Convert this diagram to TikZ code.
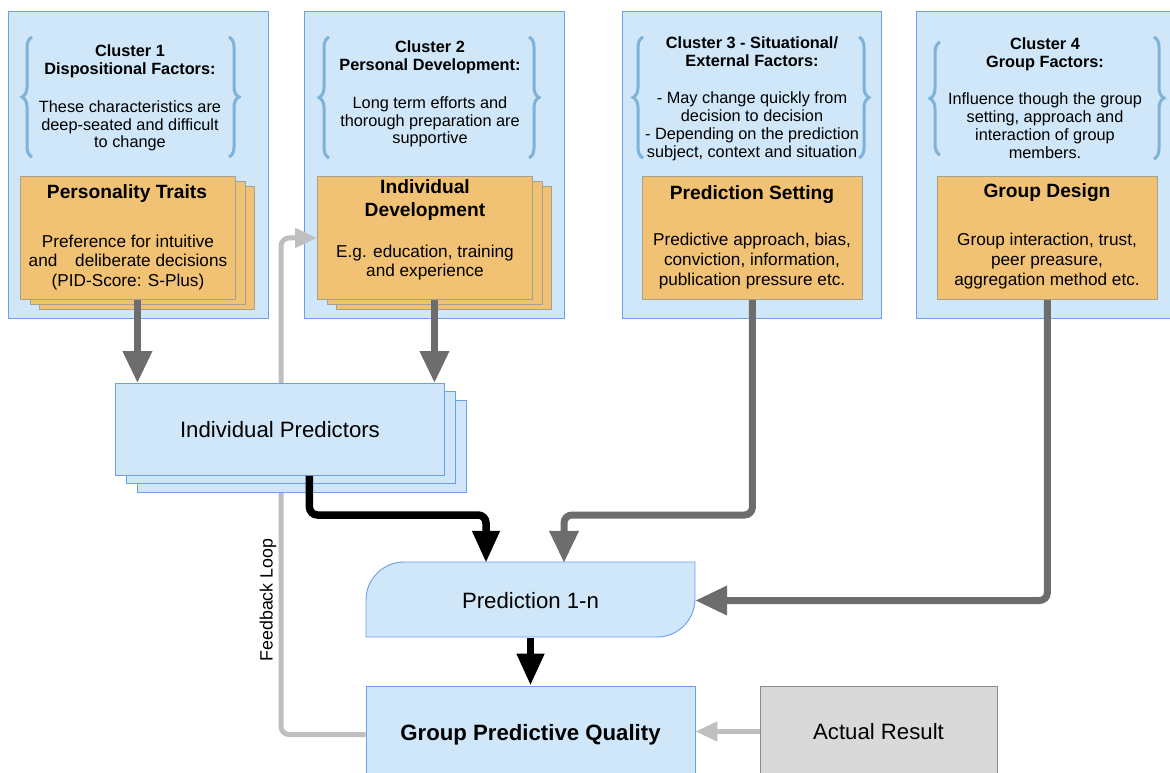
\documentclass[tikz,border=0pt]{standalone}
\usepackage{fontspec}
\setmainfont{Liberation Sans}
\usetikzlibrary{arrows.meta,decorations.pathreplacing,calc}
\definecolor{lblue}{HTML}{CFE7F8}
\definecolor{bblue}{HTML}{6D9EEB}
\definecolor{lorange}{HTML}{F1C273}
\definecolor{oedge}{HTML}{A6A08F}
\definecolor{bracec}{HTML}{7EB2D8}
\definecolor{dgray}{HTML}{6D6D6D}
\definecolor{lgray}{HTML}{BFBFBF}
\definecolor{rgray}{HTML}{D9D9D9}
\definecolor{redge}{HTML}{8C8C8C}
\tikzset{
 bluebox/.style={draw=bblue, fill=lblue, line width=0.9pt, inner sep=0pt, anchor=north west},
 orbox/.style={draw=oedge, fill=lorange, line width=0.9pt, inner sep=0pt, anchor=north west, minimum width=215pt, minimum height=123pt},
 cltext/.style={align=center, font=\fontsize{16.3}{17.8}\selectfont, inner sep=0pt},
 ortitle/.style={align=center, font=\bfseries\fontsize{19.2}{23}\selectfont, inner sep=0pt},
 orbody/.style={align=center, font=\fontsize{17.2}{19.6}\selectfont, inner sep=0pt},
 bigtext/.style={font=\fontsize{22.2}{26}\selectfont},
 bracel/.style={draw=bracec, line width=3pt, decorate, decoration={brace, amplitude=10pt}},
 darr/.style={draw=dgray, line width=7pt, rounded corners=8pt, -{Triangle[width=28pt,length=32pt]}},
 barr/.style={draw=black, line width=7.5pt, rounded corners=8pt, -{Triangle[width=26pt,length=32pt]}},
 larr/.style={draw=lgray, line width=5pt, rounded corners=8pt, -{Triangle[width=19pt,length=22pt]}},
}
\begin{document}
\begin{tikzpicture}[x=1pt,y=-1pt]
\useasboundingbox (0,0) rectangle (1170,773);
\clip (0,0) rectangle (1170,773);
% clusters
\node[bluebox, minimum width=260pt, minimum height=307pt] (c1) at (8,11) {};
\node[bluebox, minimum width=260pt, minimum height=307pt] (c2) at (304,11) {};
\node[bluebox, minimum width=259pt, minimum height=307pt] (c3) at (622,11) {};
\node[bluebox, minimum width=270pt, minimum height=307pt] (c4) at (916,11) {};
% braces
\draw[bracel] (32,157) -- (32,37);
\draw[bracel] (229,37) -- (229,157);
\draw[bracel] (329,158) -- (329,37);
\draw[bracel] (529,37) -- (529,158);
\draw[bracel] (643,158) -- (643,37);
\draw[bracel] (859,37) -- (859,158);
\draw[bracel] (940,155) -- (940,42);
\draw[bracel] (1154,37) -- (1154,159);
% cluster texts
\node[cltext] (t1) at (130,98) {\textbf{Cluster 1}\\\textbf{Dispositional Factors:}\\[20pt]These characteristics are\\deep-seated and difficult\\to change};
\node[cltext] (t2) at (430,94) {\textbf{Cluster 2}\\\textbf{Personal Development:}\\[20pt]Long term efforts and\\thorough preparation are\\supportive};
\node[cltext] (t3) at (752,98.5) {\textbf{Cluster 3 - Situational/}\\\textbf{External Factors:}\\[20pt]- May change quickly from\\decision to decision\\- Depending on the prediction\\subject, context and situation};
\node[cltext] (t4) at (1045,98) {\textbf{Cluster 4}\\\textbf{Group Factors:}\\[20pt]Influence though the group\\setting, approach and\\interaction of group\\members.};
% Personality traits stack
\node[orbox] (pt3) at (39,186) {};
\node[orbox] (pt2) at (29.5,181) {};
\node[orbox] (pt) at (20,176) {};
\node[ortitle] (ptt) at (127,194) {Personality Traits};
\node[orbody] (ptb) at (128,262.5) {Preference for intuitive\\and\hspace{13pt} deliberate decisions\\(PID-Score: S-Plus)};
% Individual development stack
\node[orbox] (id3) at (336,186) {};
\node[orbox] (id2) at (326.5,181) {};
\node[orbox] (idv) at (317,176) {};
\node[ortitle] (idt) at (425,200) {Individual\\Development};
\node[orbody] (idb) at (425,262.5) {E.g. education, training\\and experience};
% Prediction setting
\node[orbox, minimum width=220pt] (ps) at (642,176) {};
\node[ortitle] (pst) at (752,194.5) {Prediction Setting};
\node[orbody] (psb) at (752,261) {Predictive approach, bias,\\conviction, information,\\publication pressure etc.};
% Group design
\node[orbox, minimum width=220pt] (gd) at (937,176) {};
\node[ortitle] (gdt) at (1047,192.5) {Group Design};
\node[orbody] (gdb) at (1047,261) {Group interaction, trust,\\peer preasure,\\aggregation method etc.};
% Prediction 1-n
\path[draw=bblue, fill=lblue, line width=0.9pt] (366,637) -- (366,600) .. controls (366,579) and (383,562) .. (404,562) -- (695,562) -- (695,599) .. controls (695,620) and (678,637) .. (657,637) -- cycle;
\node[bigtext, minimum width=329pt, minimum height=75pt, inner sep=0pt] (pred) at (530.5,600.5) {Prediction 1-n};
% Group predictive quality
\node[bluebox, anchor=center, minimum width=329pt, minimum height=97pt, font=\bfseries\fontsize{22.2}{26}\selectfont] (gpq) at (530.5,734.5) {Group Predictive Quality};
% Actual result
\node[draw=redge, fill=rgray, line width=0.9pt, minimum width=237pt, minimum height=91pt, bigtext] (ar) at (878.5,731.5) {Actual Result};
% feedback loop (behind predictors)
\draw[larr] (gpq.west) -| ([xshift=-36pt]idv.west) -- (idv.west);
\node[rotate=90, font=\fontsize{17.8}{20}\selectfont, inner sep=0pt] (fbl) at (268,600) {Feedback Loop};
% Individual predictors stack
\node[bluebox, minimum width=329pt, minimum height=92pt] (ip3) at (137,400) {};
\node[bluebox, minimum width=329pt, minimum height=92pt] (ip2) at (126,391) {};
\node[bluebox, bigtext, minimum width=329pt, minimum height=92pt] (ip) at (115,383) {Individual Predictors};
% connectors
\coordinate (j1) at (486,515);
\coordinate (j2) at (564,515);
\draw[darr] ([xshift=9.5pt]pt.south) -- ([xshift=9.5pt]pt.south |- ip.north);
\draw[darr] ([xshift=9.5pt]idv.south) -- ([xshift=9.5pt]idv.south |- ip.north);
\draw[barr] ([xshift=29.5pt]ip.south) |- (j1) -- (j1 |- pred.north);
\draw[darr] (ps.south) |- (j2) -- (j2 |- pred.north);
\draw[darr] (gd.south) |- (pred.east);
\draw[barr] (pred.south) -- (gpq.north);
\draw[larr] (ar.west) -- (ar.west -| gpq.east);
\end{tikzpicture}
\end{document}
